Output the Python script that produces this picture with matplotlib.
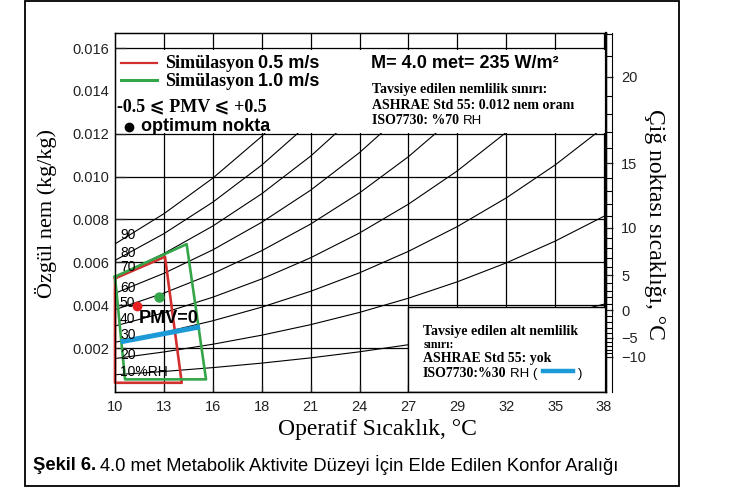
import numpy as np
import matplotlib
matplotlib.use('Agg')
import matplotlib.pyplot as plt
from matplotlib.patches import Rectangle
from matplotlib.lines import Line2D

plt.rcParams['font.family'] = ['Liberation Sans', 'DejaVu Sans']

# operative temperature grid (chart is drawn on a 5 °F grid, labelled in °C)
t_grid = [10.0, 12.78, 15.56, 18.33, 21.11, 23.89, 26.67, 29.44, 32.22, 35.0, 37.78]
t_labels = ['10', '13', '16', '18', '21', '24', '27', '29', '32', '35', '38']

# humidity ratio (kg/kg) along each relative humidity curve
rh10 = [0.000755, 0.000908, 0.001088, 0.001297, 0.001542, 0.001826, 0.002156, 0.002535, 0.002972, 0.003475, 0.004049]
rh20 = [0.001511, 0.001819, 0.002179, 0.002600, 0.003091, 0.003663, 0.004327, 0.005090, 0.005973, 0.006989, 0.008152]
rh30 = [0.002270, 0.002732, 0.003275, 0.003908, 0.004648, 0.005511, 0.006513, 0.007666, 0.009003, 0.010542, 0.012309]
rh40 = [0.003030, 0.003648, 0.004374, 0.005222, 0.006212, 0.007369, 0.008715, 0.010264, 0.012062, 0.014136]
rh50 = [0.003792, 0.004567, 0.005477, 0.006541, 0.007785, 0.009239, 0.010931, 0.012883]
rh60 = [0.004556, 0.005488, 0.006584, 0.007866, 0.009365, 0.011120, 0.013164]
rh70 = [0.005322, 0.006412, 0.007696, 0.009197, 0.010954, 0.013012]
rh80 = [0.006090, 0.007339, 0.008810, 0.010533, 0.012550]
rh90 = [0.006859, 0.008269, 0.009929, 0.011874, 0.014154]
rh_curves = [rh10, rh20, rh30, rh40, rh50, rh60, rh70, rh80, rh90]

rh_names = ['10%RH', '20', '30', '40', '50', '60', '70', '80', '90']
rh_label_w = [0.00088, 0.00167, 0.00260, 0.00335, 0.00409, 0.00479, 0.00577, 0.00642, 0.00726]

# comfort zones from the simulations
zone05_t = [10.0, 12.84, 13.79, 10.0, 10.0]
zone05_w = [0.00525, 0.00626, 0.00038, 0.00038, 0.00525]
zone10_t = [10.0, 14.07, 15.17, 10.57, 10.0]
zone10_w = [0.00533, 0.00685, 0.00054, 0.00054, 0.00533]

opt05 = (11.27, 0.00397)
opt10 = (12.50, 0.00437)

# PMV=0 line along ISO 7730 30 % RH limit
pmv0_t = [10.32, 14.83]
pmv0_w = [0.00229, 0.00299]

w_ticks = [0.002, 0.004, 0.006, 0.008, 0.010, 0.012, 0.014, 0.016]
dew_ticks = [20, 15, 10, 5, 0, -5, -10]

RED = '#d2302f'
GREEN = '#35a54a'
BLUE = '#1c9ad8'
SERIF = ['Liberation Serif', 'DejaVu Serif']
SERIF_M = ['Liberation Serif', 'DejaVu Sans']


def dew_w(td):
    td = np.asarray(td, dtype=float)
    es = np.where(td >= 0,
                  0.61094 * np.exp(17.625 * td / (td + 243.04)),
                  0.61115 * np.exp(22.452 * td / (td + 272.55)))
    return 0.622 * es / (101.325 - es)


W, H = 742, 488
fig = plt.figure(figsize=(W / 100, H / 100), dpi=100)


def fx(px):
    return px / W


def fy(py):
    return 1 - py / H


ax = fig.add_axes([fx(115), fy(392), (606 - 115) / W, (392 - 33) / H])
ax.set_xlim(10, 37.89)
ax.set_ylim(-0.00005, 0.0167)

# chart grid
for t in t_grid[1:]:
    ax.axvline(t, color='black', lw=0.9, zorder=1)
for w in w_ticks:
    ax.axhline(w, color='black', lw=0.9, zorder=1)

for w in rh_curves:
    ax.plot(t_grid[:len(w)], w, color='black', lw=0.8, zorder=2)

# white panels for the notes
ax.add_patch(Rectangle((10, 0.01205), 28, 0.0159 - 0.01205, fc='white', ec='none', zorder=2.3))
ax.add_patch(Rectangle((26.67, -0.00005), 12, 0.00391 + 0.00005, fc='white', ec='black', lw=1.0, zorder=2.3))

ax.set_xticks(t_grid)
ax.set_xticklabels(t_labels)
ax.set_yticks(w_ticks)
ax.set_yticklabels(['%.3f' % w for w in w_ticks])
ax.tick_params(axis='x', direction='in', length=5, width=0.9, pad=6, labelsize=10.5, colors='#222222')
ax.tick_params(axis='y', direction='in', length=8, width=0.9, pad=4, labelsize=10.5, colors='#222222')
for s in ax.spines.values():
    s.set_linewidth(1.0)

for name, w in zip(rh_names, rh_label_w):
    ax.text(10.28, w, name, fontsize=10, ha='left', va='center',
            family=['Liberation Sans Narrow', 'Liberation Sans'], zorder=5)

ax.plot(zone05_t, zone05_w, color=RED, lw=1.9, zorder=4, clip_on=False)
ax.plot(zone10_t, zone10_w, color=GREEN, lw=1.9, zorder=4, clip_on=False)
ax.plot(pmv0_t, pmv0_w, color=BLUE, lw=3.6, zorder=4, solid_capstyle='butt')
ax.plot(*opt05, 'o', color='#e8201f', ms=6, zorder=5)
ax.plot(*opt10, 'o', color=GREEN, ms=6.5, zorder=5)
ax.text(11.36, 0.0034, 'PMV=0', fontsize=13, fontweight='bold', ha='left', va='center', zorder=6)

# dew point scale on the right
ax2 = ax.twinx()
ax2.set_ylim(ax.get_ylim())
ax2.set_yticks(dew_w(dew_ticks))
ax2.set_yticklabels([str(d).replace('-', '\u2212') for d in dew_ticks])
ax2.set_yticks(dew_w(np.arange(-10, 23)), minor=True)
ax2.tick_params(axis='y', which='major', direction='out', length=5, width=0.9, pad=6, labelsize=10.5, colors='#222222')
ax2.tick_params(axis='y', which='minor', direction='out', length=4, width=0.8)
ax2.spines['right'].set_linewidth(1.6)
fig.add_artist(Line2D([fx(612), fx(612)], [fy(33), fy(392)], color='black', lw=0.8))

# axis titles
fig.text(fx(46), fy(214), 'Özgül nem (kg/kg)', rotation=90, ha='center', va='center', fontsize=16, family=SERIF)
fig.text(fx(377), fy(430), 'Operatif Sıcaklık, °C', ha='center', va='center', fontsize=17, family=SERIF)
fig.text(fx(655), fy(224), 'Çiğ noktası sıcaklığı, °C', rotation=270, ha='center', va='center', fontsize=17, family=SERIF)

renderer = fig.canvas.get_renderer()


def put_runs(x, y, runs):
    for s, props, gap in runs:
        t = fig.text(fx(x), fy(y), s, ha='left', va='center_baseline', **props)
        x += t.get_window_extent(renderer=renderer).width + gap
    return x


serif_b = dict(family=SERIF, fontweight='bold')
sans_b = dict(fontweight='bold')

# legend
fig.add_artist(Line2D([fx(121), fx(157)], [fy(63), fy(63)], color=RED, lw=1.6))
fig.add_artist(Line2D([fx(121), fx(157)], [fy(80), fy(80)], color=GREEN, lw=2.2))
put_runs(165, 62, [('Simülasyon', dict(serif_b, fontsize=13), 4), ('0.5 m/s', dict(sans_b, fontsize=13), 0)])
put_runs(165, 80, [('Simülasyon', dict(serif_b, fontsize=13), 4), ('1.0 m/s', dict(sans_b, fontsize=13), 0)])
fig.text(fx(117), fy(105), '-0.5 \u2a7d PMV \u2a7d +0.5', ha='left', va='center_baseline', fontsize=13,
         fontweight='bold', family=SERIF_M)
fig.add_artist(Line2D([fx(129)], [fy(127)], marker='o', color='black', ms=6))
fig.text(fx(141), fy(125), 'optimum nokta', ha='left', va='center_baseline', fontsize=13, fontweight='bold')

# notes
fig.text(fx(371), fy(62), 'M= 4.0 met= 235 W/m²', ha='left', va='center_baseline', fontsize=13, fontweight='bold')
put_runs(372, 88, [('Tavsiye edilen nemlilik sınırı:', dict(serif_b, fontsize=10), 0)])
put_runs(372, 104, [('ASHRAE Std 55: 0.012 nem oranı', dict(serif_b, fontsize=10), 0)])
put_runs(372, 119, [('ISO7730: %70', dict(serif_b, fontsize=10), 4), ('RH', dict(fontsize=9.5), 0)])

put_runs(423, 330, [('Tavsiye edilen alt nemlilik', dict(serif_b, fontsize=10), 0)])
put_runs(424, 343, [('sınırı:', dict(serif_b, fontsize=8.5), 0)])
put_runs(423, 357, [('ASHRAE Std 55: yok', dict(serif_b, fontsize=10), 0)])
xe = put_runs(423, 372, [('ISO7730:%30', dict(serif_b, fontsize=10), 4), ('RH (', dict(fontsize=9.5), 5)])
fig.add_artist(Line2D([fx(xe), fx(xe + 30)], [fy(371), fy(371)], color=BLUE, lw=3.2))
put_runs(xe + 35, 372, [(')', dict(fontsize=9.5), 0)])

# caption
put_runs(33, 463, [('Şekil 6.', dict(fontweight='bold', fontsize=13.2), 4),
                   ('4.0 met Metabolik Aktivite Düzeyi İçin Elde Edilen Konfor Aralığı', dict(fontsize=13.2), 0)])

# outer frame
fig.add_artist(Rectangle((fx(25), fy(486)), (679 - 25) / W, (486 - 1) / H, transform=fig.transFigure,
                         fill=False, ec='black', lw=1.3))

fig.savefig('out.png', dpi=100)
